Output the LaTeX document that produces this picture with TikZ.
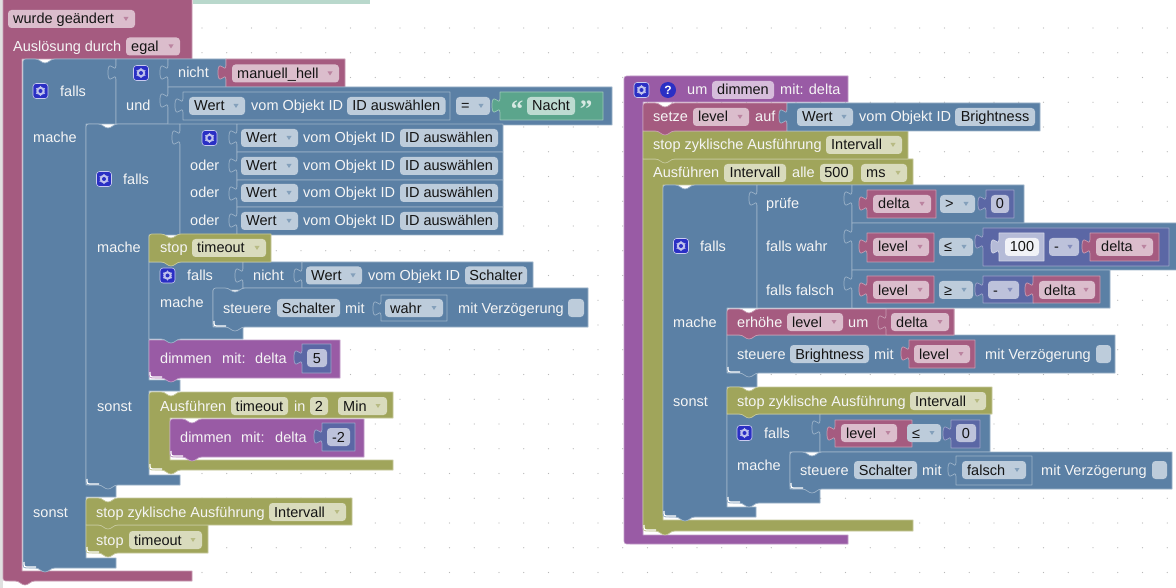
\documentclass[tikz,border=0pt]{standalone}
\usepackage{fontspec}
\setmainfont{Liberation Sans}
\newfontfamily\quotefont{Liberation Serif}
\definecolor{cM}{HTML}{A55B80}
\definecolor{cB}{HTML}{5B80A5}
\definecolor{cO}{HTML}{A0A55B}
\definecolor{cP}{HTML}{995BA5}
\definecolor{cI}{HTML}{5B67A5}
\definecolor{cG}{HTML}{5BA58C}
\colorlet{cL}{cI!45!white}
\colorlet{cW}{cI!22!white}
\definecolor{iconblue}{HTML}{2A2FC4}
\definecolor{mintbar}{HTML}{B9D8CC}
\newcount\nid
\tikzset{
  blk/.style={fill=c#1,draw=c#1!60!white,line width=0.7pt,line join=round},
  txt/.style={inner sep=0pt,anchor=base west,font=\fontsize{14.5}{16}\selectfont},
  lbltxt/.style={txt,text=white!96!black},
  fldtxt/.style={txt,text=black!92!white},
  fldbox/.style={fill=c#1!40!white,draw=none,rounded corners=3.5pt},
  fldtri/.style={fill=c#1!75!white,draw=none},
}
% Path pieces: rounded top-left start, notch on a top edge, bump on a bottom edge, rounded bottom-left
\newcommand\TL[2]{(#1,#2+6) .. controls (#1,#2) .. (#1+6,#2)}
\newcommand\NT[2]{-- (#1+12,#2) .. controls (#1+17,#2) and (#1+18,#2+4) .. (#1+22,#2+4) .. controls (#1+26,#2+4) and (#1+27,#2) .. (#1+32,#2)}
\newcommand\BP[2]{-- (#1+32,#2) .. controls (#1+27,#2) and (#1+26,#2+4) .. (#1+22,#2+4) .. controls (#1+18,#2+4) and (#1+17,#2) .. (#1+12,#2)}
\newcommand\BL[2]{-- (#1+6,#2) .. controls (#1,#2) .. (#1,#2-6)}
% Highlight along a rounded bottom-left corner
\newcommand\shine[2]{\draw[white,line width=1.2pt] (#1+1,#2-6) .. controls (#1+1,#2-1) .. (#1+6,#2-1) -- (#1+13,#2-1);}
% Value block with its puzzle tab on the left edge: colour, x1, y1, x2, y2
\newcommand\valblk[5]{\draw[blk=#1] (#2,#3) -- (#4,#3) -- (#4,#5) -- (#2,#5) -- (#2,#3+21) .. controls (#2,#3+11) and (#2-8,#3+29) .. (#2-8,#3+13.5) .. controls (#2-8,#3-2) and (#2,#3+16) .. (#2,#3+6) -- cycle;}
% White caption: x, y centre, text
\newcommand\lbl[3]{\global\advance\nid by 1 \node[lbltxt] (t\the\nid) at (#1,#2+5) {#3};}
% Dropdown field: tint, x1, x2, y centre, text
\newcommand\dd[5]{\fill[fldbox=#1] (#2,#4-9) rectangle (#3,#4+9);
  \fill[fldtri=#1] (#3-11.5,#4-2) -- (#3-6.5,#4-2) -- (#3-9,#4+2) -- cycle;
  \global\advance\nid by 1 \node[fldtxt] (t\the\nid) at (#2+5,#4+5) {#5};}
% Plain field with centred text: tint, x1, x2, y centre, text
\newcommand\ff[5]{\fill[fldbox=#1] (#2,#4-9) rectangle (#3,#4+9);
  \global\advance\nid by 1 \node[txt,anchor=base,text=black!92!white] (t\the\nid) at ({(#2+#3)/2},#4+5) {#5};}
% Gear button: x centre, y centre
\newcommand\gearbtn[2]{\draw[fill=iconblue,draw=white!75!iconblue,line width=0.6pt,rounded corners=3pt] (#1-7.5,#2-7.5) rectangle (#1+7.5,#2+7.5);
  \fill[white!70!iconblue] (#1,#2) circle (4.3);
  \foreach \a in {30,90,...,330}{\fill[white!70!iconblue] (#1,#2) ++(\a:4.4) circle (0.8);}
  \fill[iconblue] (#1,#2) circle (2);}
\begin{document}
\begin{tikzpicture}[x=1pt,y=-1pt]
\useasboundingbox (0,0) rectangle (1176,588);
\clip (0,0) rectangle (1176,588);
\fill[white] (0,0) rectangle (1176,588);
% workspace grid
\foreach \i in {0,...,39}{\foreach \j in {0,...,22}{
  \fill[black!28] ({202+24.75*\i},{28+24.75*\j}) circle (0.55);}}
\fill[black!12] (0,0) rectangle (2.6,588);
\fill[mintbar] (193,0) rectangle (370,4);

% ---------- trigger block ----------
\draw[blk=M] (3,-3) -- (192,-3) -- (192,59) -- (22,59) -- (22,571) -- (192,571) -- (192,581) \BP{3}{581} \BL{3}{581} -- cycle;
\dd{M}{8}{135}{19}{wurde geändert}
\lbl{13}{47}{Auslösung durch}
\dd{M}{126}{180}{46.5}{egal}

% outer if
\draw[blk=B] \TL{23}{59} \NT{23}{59} -- (116,59) -- (116,124) -- (86,124) -- (86,485) -- (116,485) -- (116,497) -- (86,497) -- (86,558) -- (116,558) -- (116,568) \BP{23}{568} \BL{23}{568} -- cycle;
\shine{23}{568}
\gearbtn{40.5}{91}
\lbl{60}{91.5}{falls}
\lbl{33}{138}{mache}
\lbl{33}{512}{sonst}
\valblk{B}{116}{59}{168}{124}
\gearbtn{141}{73}
\lbl{126}{106}{und}
\valblk{B}{168}{59}{226}{87}
\valblk{M}{226}{59}{345}{87}
\lbl{178}{73}{nicht}
\dd{M}{232}{339}{73.5}{manuell\_hell}
\valblk{B}{168}{87}{612}{125}
\valblk{B}{183}{92}{450}{120}
\dd{B}{189}{245}{106}{Wert}
\lbl{251}{106}{vom Objekt ID}
\ff{B}{347}{445.5}{106}{ID auswählen}
\dd{B}{456}{490}{106}{=}
\valblk{G}{500}{92}{603}{120}
\global\advance\nid by 1 \node[inner sep=0pt,text=cG!25!white,font=\quotefont\bfseries\fontsize{25}{25}\selectfont,anchor=base] (t\the\nid) at (517,118) {“};
\ff{G}{527}{575}{106}{Nacht}
\global\advance\nid by 1 \node[inner sep=0pt,text=cG!25!white,font=\quotefont\bfseries\fontsize{25}{25}\selectfont,anchor=base] (t\the\nid) at (586,118) {”};

% nested if
\draw[blk=B] \TL{86}{124} \NT{86}{124} -- (180,124) -- (180,235) -- (149,235) -- (149,380) -- (180,380) -- (180,391) -- (149,391) -- (149,475) -- (180,475) -- (180,485) \BP{86}{485} \BL{86}{485} -- cycle;
\shine{86}{485}
\gearbtn{104}{179}
\lbl{123}{180}{falls}
\lbl{97}{248}{mache}
\lbl{97}{406}{sonst}
\valblk{B}{180}{124}{237}{235}
\gearbtn{209.5}{138}
\lbl{190}{166}{oder}
\lbl{190}{193}{oder}
\lbl{190}{221}{oder}
\foreach \ya/\yb/\yc in {124/152/138,152/180/166,180/207/193,207/235/221}{
  \valblk{B}{237}{\ya}{503}{\yb}
  \dd{B}{241}{298}{\yc}{Wert}
  \lbl{303}{\yc}{vom Objekt ID}
  \ff{B}{400}{498}{\yc}{ID auswählen}
}

% call with value 5, then the if above it, then the stop block on top
\draw[blk=P] (149,340) -- (340,340) -- (340,378) \BP{149}{378} \BL{149}{378} -- cycle;
\shine{149}{378}
\lbl{160}{358.5}{dimmen}
\lbl{222}{358.5}{mit:}
\lbl{255}{358.5}{delta}
\valblk{I}{302}{344}{331}{373}
\ff{I}{307}{327}{358}{5}

\draw[blk=B] (149,262) -- (243,262) -- (243,290) -- (213,290) -- (213,327) -- (243,327) -- (243,339) \BP{149}{339} -- (149,339) -- cycle;
\gearbtn{167.5}{275.5}
\lbl{187}{276}{falls}
\lbl{160}{303}{mache}
\valblk{B}{243}{262}{302}{288}
\lbl{253}{276}{nicht}
\valblk{B}{302}{262}{533}{288}
\dd{B}{306}{362}{275.5}{Wert}
\lbl{368}{275.5}{vom Objekt ID}
\ff{B}{465}{527}{275.5}{Schalter}
\draw[blk=B] \TL{213}{288} \NT{213}{288} -- (588,288) -- (588,327) \BP{213}{327} \BL{213}{327} -- cycle;
\shine{213}{327}
\lbl{223}{308}{steuere}
\ff{B}{277}{340}{308}{Schalter}
\lbl{345}{308}{mit}
\valblk{B}{381}{295}{447}{321}
\dd{B}{385}{443}{308}{wahr}
\lbl{458}{308}{mit Verzögerung}
\ff{B}{568}{584}{308}{}

\draw[blk=O] \TL{149}{234} \NT{149}{234} -- (271,234) -- (271,262) \BP{149}{262} -- (149,262) -- cycle;
\lbl{160}{248}{stop}
\dd{O}{192}{266}{248}{timeout}

% delayed call
\draw[blk=O] \TL{149}{392} \NT{149}{392} -- (393,392) -- (393,418) -- (170,418) -- (170,460) -- (393,460) -- (393,470) \BP{149}{470} \BL{149}{470} -- cycle;
\shine{149}{470}
\lbl{160}{406}{Ausführen}
\ff{O}{231}{288}{406}{timeout}
\lbl{294}{406}{in}
\ff{O}{310}{328}{406}{2}
\dd{O}{338}{387}{406}{Min}
\draw[blk=P] \TL{170}{419} \NT{170}{419} -- (364,419) -- (364,457) \BP{170}{457} \BL{170}{457} -- cycle;
\shine{170}{457}
\lbl{180}{437}{dimmen}
\lbl{241}{437}{mit:}
\lbl{275}{437}{delta}
\valblk{I}{322}{423}{355}{451}
\ff{I}{327}{350}{437}{-2}

% else branch of the outer if
\draw[blk=O] (86,525) -- (208,525) -- (208,553) \BP{86}{553} \BL{86}{553} -- cycle;
\shine{86}{553}
\lbl{96}{540}{stop}
\dd{O}{129}{202}{540}{timeout}
\draw[blk=O] \TL{86}{498} \NT{86}{498} -- (352,498) -- (352,525) \BP{86}{525} -- (86,525) -- cycle;
\lbl{96}{512}{stop zyklische Ausführung}
\dd{O}{269}{346}{512}{Intervall}

% ---------- procedure block ----------
\draw[blk=P] \TL{624}{76} -- (848,76) -- (848,102) -- (643,102) -- (643,535) -- (848,535) -- (848,544) \BL{624}{544} -- cycle;
\gearbtn{641.5}{90}
\fill[iconblue] (668,90) circle (8);
\global\advance\nid by 1 \node[inner sep=0pt,anchor=base,text=white,font=\bfseries\fontsize{12}{12}\selectfont] (t\the\nid) at (668,94.5) {?};
\lbl{687}{90}{um}
\ff{P}{712}{774}{90}{dimmen}
\lbl{780}{90}{mit: delta}

% timer block with its body
\draw[blk=O] (643,159) -- (913,159) -- (913,185) -- (663,185) -- (663,520) -- (913,520) -- (913,531) \BP{643}{531} \BL{643}{531} -- cycle;
\shine{643}{531}
\lbl{653}{173}{Ausführen}
\ff{O}{724}{786}{173}{Intervall}
\lbl{792}{173}{alle}
\ff{O}{820}{853}{173}{500}
\dd{O}{861}{907}{173}{ms}

\draw[blk=O] (643,131) -- (908,131) -- (908,159) \BP{643}{159} -- (643,159) -- cycle;
\lbl{653}{145}{stop zyklische Ausführung}
\dd{O}{826}{902}{145}{Intervall}

\draw[blk=M] \TL{643}{103} \NT{643}{103} -- (787,103) -- (787,131) \BP{643}{131} -- (643,131) -- cycle;
\lbl{653}{117}{setze}
\dd{M}{693}{749}{117}{level}
\lbl{755}{117}{auf}
\valblk{B}{787}{103}{1040}{131}
\dd{B}{797}{853}{117}{Wert}
\lbl{859}{117}{vom Objekt ID}
\ff{B}{955}{1035}{117}{Brightness}

% if inside the timer
\draw[blk=B] \TL{663}{185} \NT{663}{185} -- (757,185) -- (757,308) -- (727,308) -- (727,373) -- (757,373) -- (757,387) -- (727,387) -- (727,507) -- (756,507) -- (756,517) \BP{663}{517} \BL{663}{517} -- cycle;
\shine{663}{517}
\gearbtn{681}{246}
\lbl{700}{247}{falls}
\lbl{673}{322}{mache}
\lbl{673}{401}{sonst}
\valblk{B}{757}{185}{852}{308}
\lbl{766}{204}{prüfe}
\lbl{766}{247}{falls wahr}
\lbl{766}{290}{falls falsch}
\valblk{B}{852}{185}{1024}{223}
\valblk{M}{867}{190}{936}{218}
\dd{M}{873}{931}{204}{delta}
\dd{B}{940}{975}{204}{>}
\valblk{I}{986}{190}{1014}{218}
\ff{I}{991}{1009}{204}{0}
\valblk{B}{852}{223}{1180}{270}
\valblk{M}{867}{233}{934}{262}
\dd{M}{873}{929}{247}{level}
\dd{B}{939}{973}{247}{≤}
\valblk{I}{983}{228}{1169}{266}
\valblk{L}{999}{233}{1044}{261}
\ff{W}{1005}{1039}{247}{100}
\dd{I}{1049}{1079}{247}{-}
\valblk{M}{1090}{233}{1159}{261}
\dd{M}{1096}{1153}{247}{delta}
\valblk{B}{852}{270}{1110}{308}
\valblk{M}{867}{276}{934}{303}
\dd{M}{873}{929}{290}{level}
\dd{B}{939}{973}{290}{≥}
\valblk{I}{983}{276}{1034}{303}
\dd{I}{988}{1019}{290}{-}
\valblk{M}{1033}{276}{1100}{303}
\dd{M}{1039}{1095}{290}{delta}

% then branch
\draw[blk=B] (727,335) -- (1115,335) -- (1115,373) \BP{727}{373} \BL{727}{373} -- cycle;
\shine{727}{373}
\lbl{737}{354}{steuere}
\ff{B}{790}{869}{354}{Brightness}
\lbl{874}{354}{mit}
\valblk{M}{909}{340}{975}{368}
\dd{M}{914}{970}{354}{level}
\lbl{985}{354}{mit Verzögerung}
\ff{B}{1096}{1111}{354}{}
\draw[blk=M] \TL{727}{309} \NT{727}{309} -- (954,309) -- (954,335) \BP{727}{335} -- (727,335) -- cycle;
\lbl{737}{322}{erhöhe}
\dd{M}{787}{843}{322}{level}
\lbl{848}{322}{um}
\valblk{M}{886}{309}{954}{335}
\dd{M}{891}{949}{322}{delta}

% else branch
\draw[blk=B] (727,414) -- (820,414) -- (820,452) -- (790,452) -- (790,489) -- (820,489) -- (820,503) \BP{727}{503} \BL{727}{503} -- cycle;
\shine{727}{503}
\gearbtn{744.5}{433}
\lbl{764}{433.5}{falls}
\lbl{737}{465}{mache}
\valblk{B}{820}{414}{990}{452}
\valblk{M}{835}{420}{912}{447}
\dd{M}{841}{897}{433}{level}
\dd{B}{907}{941}{433}{≤}
\valblk{I}{951}{420}{980}{448}
\ff{I}{956}{976}{433}{0}
\draw[blk=B] \TL{790}{452} \NT{790}{452} -- (1172,452) -- (1172,489) \BP{790}{489} \BL{790}{489} -- cycle;
\shine{790}{489}
\lbl{800}{470}{steuere}
\ff{B}{854}{917}{470}{Schalter}
\lbl{922}{470}{mit}
\valblk{B}{956}{456}{1032}{485}
\dd{B}{962}{1026}{470}{falsch}
\lbl{1041}{470}{mit Verzögerung}
\ff{B}{1152}{1167}{470}{}
\draw[blk=O] \TL{727}{387} \NT{727}{387} -- (992,387) -- (992,414) \BP{727}{414} -- (727,414) -- cycle;
\lbl{737}{401}{stop zyklische Ausführung}
\dd{O}{910}{986}{401}{Intervall}
\end{tikzpicture}
\end{document}
